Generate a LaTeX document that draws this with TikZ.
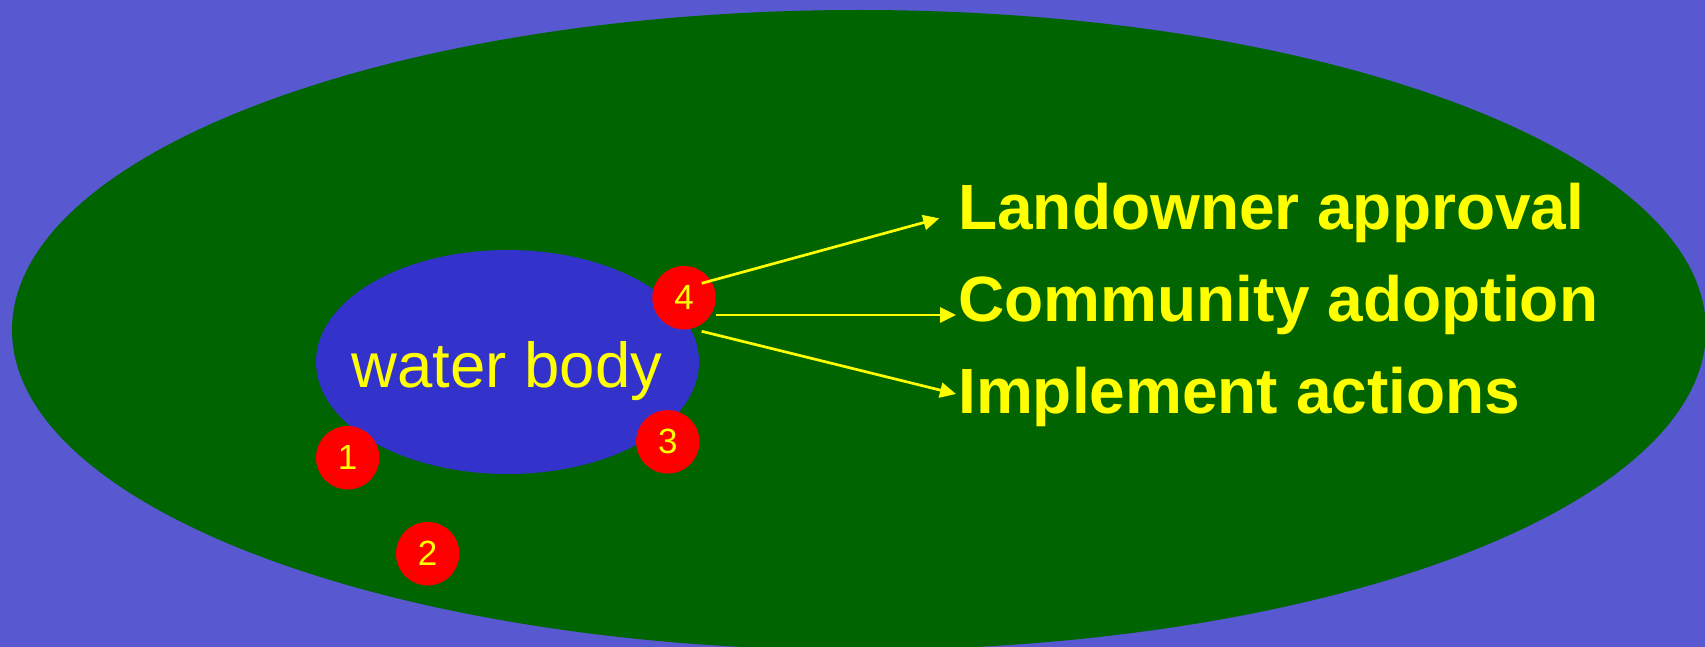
\documentclass[tikz,border=0pt]{standalone}
\usepackage{fontspec}
\setmainfont{Liberation Sans}
\usetikzlibrary{arrows.meta}
\definecolor{skyblue}{RGB}{88,88,208}
\definecolor{field}{RGB}{0,100,0}
\definecolor{lake}{RGB}{51,51,204}
\definecolor{mark}{RGB}{255,0,0}
\definecolor{ink}{RGB}{255,255,0}
\tikzset{
  site/.style={circle, fill=mark, text=ink, minimum size=63.4pt, inner sep=0pt,
    font=\fontsize{35}{35}\selectfont},
  goal/.style={anchor=base west, inner sep=0pt, text=ink,
    font=\fontsize{64}{64}\selectfont\bfseries},
  flow/.style={draw=ink, line width=2.7pt,
    -{Triangle[length=16pt,width=15pt]}}
}
\begin{document}
\begin{tikzpicture}[x=1pt,y=-1pt]
  % canvas
  \fill[skyblue] (0,0) rectangle (1705,647);
  \useasboundingbox (0,0) rectangle (1705,647);
  % watershed and the water body inside it
  \fill[field] (859,330) ellipse [x radius=847, y radius=320];
  \fill[lake] (507.5,362) ellipse [x radius=191.5, y radius=112];
  \node[anchor=base, inner sep=0pt, text=ink, font=\fontsize{63.5}{63.5}\selectfont]
    (wb) at (507,387) {water body};
  % numbered sites
  \node[site] (n1) at (347.7,457.7) {1};
  \node[site] (n2) at (427.7,553.7) {2};
  \node[site] (n3) at (667.8,441.8) {3};
  \node[site] (n4) at (684,297.7) {4};
  % outcomes
  \node[goal] (g1) at (958,229.5) {Landowner approval};
  \node[goal] (g2) at (958,321.5) {Community adoption};
  \node[goal] (g3) at (958,413.5) {Implement actions};
  % arrows from site 4
  \draw[flow] ([shift={(17.7,-14.4)}]n4.center) -- ([shift={(-18.7,-11.2)}]g1.base west);
  \draw[flow] ([shift={(32,17.3)}]n4.center) -- ([shift={(-2,-6.5)}]g2.base west);
  \draw[flow] ([shift={(17.7,33.6)}]n4.center) -- ([shift={(-2,-19.5)}]g3.base west);
\end{tikzpicture}
\end{document}
